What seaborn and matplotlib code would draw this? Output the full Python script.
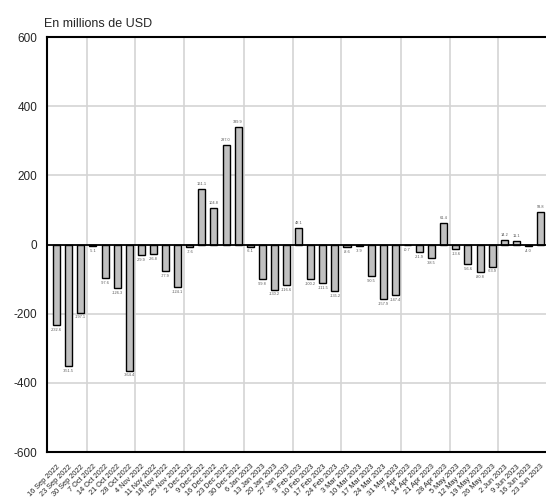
import matplotlib
matplotlib.use("Agg")
import matplotlib.pyplot as plt
import seaborn as sns
import pandas as pd
import numpy as np

weeks = ["16 Sep 2022", "23 Sep 2022", "30 Sep 2022", "7 Oct 2022", "14 Oct 2022",
         "21 Oct 2022", "28 Oct 2022", "4 Nov 2022", "11 Nov 2022", "18 Nov 2022",
         "25 Nov 2022", "2 Dec 2022", "9 Dec 2022", "16 Dec 2022", "23 Dec 2022",
         "30 Dec 2022", "6 Jan 2023", "13 Jan 2023", "20 Jan 2023", "27 Jan 2023",
         "3 Feb 2023", "10 Feb 2023", "17 Feb 2023", "24 Feb 2023", "3 Mar 2023",
         "10 Mar 2023", "17 Mar 2023", "24 Mar 2023", "31 Mar 2023", "7 Apr 2023",
         "14 Apr 2023", "21 Apr 2023", "28 Apr 2023", "5 May 2023", "12 May 2023",
         "19 May 2023", "26 May 2023", "2 Jun 2023", "9 Jun 2023", "16 Jun 2023",
         "23 Jun 2023"]
values = [-232.6, -351.5, -197.1, -5.1, -97.6,
          -126.3, -364.4, -29.9, -26.8, -77.9,
          -124.1, -7.6, 161.1, 104.8, 287.0,
          339.9, -6.1, -99.8, -130.2, -116.6,
          48.1, -100.2, -111.5, -135.2, -8.6,
          -3.9, -90.5, -157.9, -147.4, -0.7,
          -21.9, -38.5, 61.4, -13.6, -56.6,
          -80.8, -63.9, 14.2, 11.1, -4.0,
          93.8]
y_ticks = [-600, -400, -200, 0, 200, 400, 600]
title_text = "En millions de USD"

df = pd.DataFrame({"week": weeks, "value": values})

sns.set_style("white")
plt.rcParams["font.family"] = ["Liberation Sans", "DejaVu Sans"]
plt.rcParams["axes.unicode_minus"] = False

fig = plt.figure(figsize=(5.46, 5.0), dpi=100)
ax = fig.add_axes([47 / 546, 1 - 452 / 500, 1 - 47 / 546, (452 - 37) / 500])

# month boundary gridlines (before first week of each month)
months = [w.split()[1] for w in weeks]
for i in range(1, len(weeks)):
    if months[i] != months[i - 1]:
        ax.axvline(i - 0.5, color="#d4d4d4", lw=1.2, zorder=0)
for yv in y_ticks:
    if yv not in (0, -600, 600):
        ax.axhline(yv, color="#d4d4d4", lw=1.2, zorder=0)

sns.barplot(data=df, x="week", y="value", color="#c0c0c0", edgecolor="black",
            linewidth=1.0, width=0.58, saturation=1, ax=ax, zorder=2)

ax.axhline(0, color="black", lw=1.3, zorder=3)

for i, v in enumerate(values):
    off = 2 if v >= 0 else -2
    ax.annotate(f"{v:.1f}", (i, v), xytext=(0, off), textcoords="offset points",
                ha="center", va="bottom" if v >= 0 else "top",
                fontsize=2.8, color="#555555")

ax.set_ylim(-600, 600)
ax.set_xlim(-0.8, 40.45)
ax.set_yticks(y_ticks)
ax.set_yticklabels([str(t) for t in y_ticks], fontsize=8.5)
ax.set_xticks(range(len(weeks)))
ax.set_xticklabels(weeks, rotation=45, ha="right", rotation_mode="anchor",
                   fontsize=5.3, color="#222222")
ax.tick_params(axis="y", direction="out", length=6, width=1, color="#333333", pad=1)
ax.tick_params(axis="x", direction="out", length=7, width=1, color="#333333", pad=1)
ax.set_xlabel("")
ax.set_ylabel("")

for s in ["left", "bottom", "top"]:
    ax.spines[s].set_color("black")
    ax.spines[s].set_linewidth(1.5)
ax.spines["right"].set_visible(False)

fig.text(44 / 546, 1 - 27 / 500, title_text, fontsize=9, ha="left", va="baseline")

fig.savefig("out.png", dpi=100)
